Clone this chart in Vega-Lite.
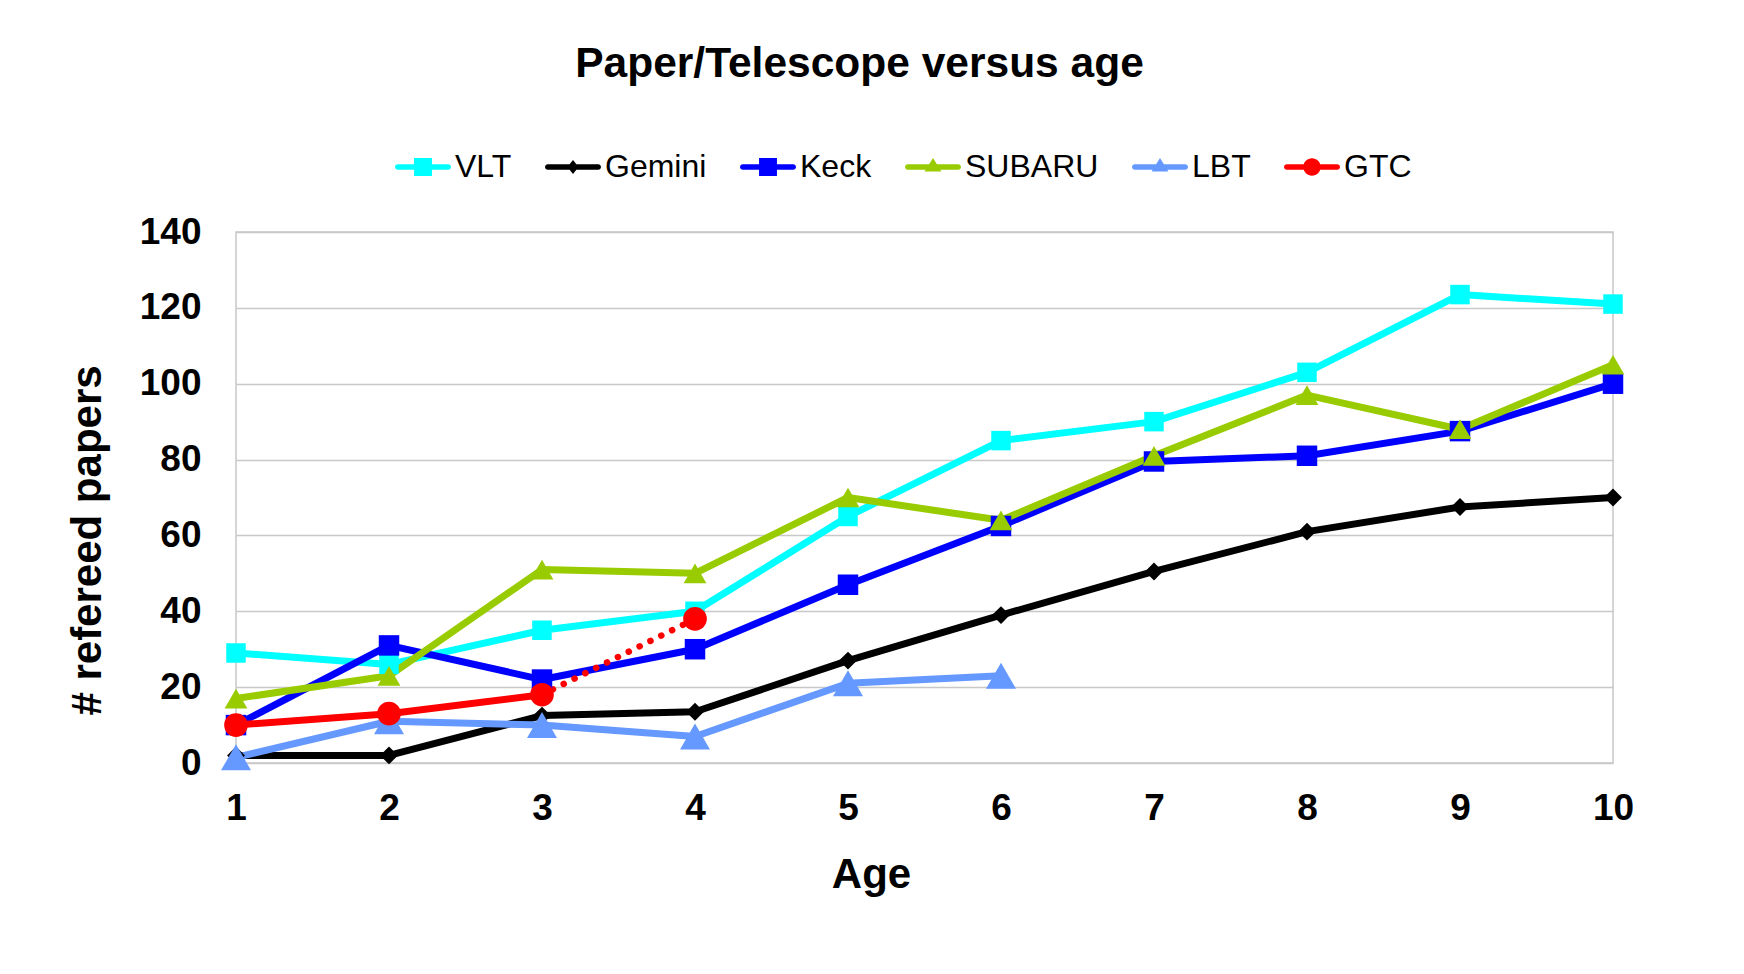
{
  "$schema": "https://vega.github.io/schema/vega-lite/v6.json",
  "width": 1377,
  "height": 531,
  "autosize": "none",
  "padding": {"left": 236, "top": 232, "right": 131, "bottom": 211},
  "background": "white",
  "title": {
    "text": "Paper/Telescope  versus age",
    "font": "Liberation Sans",
    "fontSize": 42.5,
    "fontWeight": "bold",
    "color": "black",
    "anchor": "middle",
    "frame": "group",
    "dx": -65,
    "offset": 54
  },
  "data": {
    "values": [
      {"series": "VLT", "age": 1, "papers": 29},
      {"series": "VLT", "age": 2, "papers": 26},
      {"series": "VLT", "age": 3, "papers": 35},
      {"series": "VLT", "age": 4, "papers": 40},
      {"series": "VLT", "age": 5, "papers": 65},
      {"series": "VLT", "age": 6, "papers": 85},
      {"series": "VLT", "age": 7, "papers": 90},
      {"series": "VLT", "age": 8, "papers": 103},
      {"series": "VLT", "age": 9, "papers": 123.5},
      {"series": "VLT", "age": 10, "papers": 121},
      {"series": "Gemini", "age": 1, "papers": 2},
      {"series": "Gemini", "age": 2, "papers": 2},
      {"series": "Gemini", "age": 3, "papers": 12.5},
      {"series": "Gemini", "age": 4, "papers": 13.5},
      {"series": "Gemini", "age": 5, "papers": 27},
      {"series": "Gemini", "age": 6, "papers": 39},
      {"series": "Gemini", "age": 7, "papers": 50.5},
      {"series": "Gemini", "age": 8, "papers": 61},
      {"series": "Gemini", "age": 9, "papers": 67.5},
      {"series": "Gemini", "age": 10, "papers": 70},
      {"series": "Keck", "age": 1, "papers": 10},
      {"series": "Keck", "age": 2, "papers": 31},
      {"series": "Keck", "age": 3, "papers": 22},
      {"series": "Keck", "age": 4, "papers": 30},
      {"series": "Keck", "age": 5, "papers": 47},
      {"series": "Keck", "age": 6, "papers": 62.5},
      {"series": "Keck", "age": 7, "papers": 79.5},
      {"series": "Keck", "age": 8, "papers": 81},
      {"series": "Keck", "age": 9, "papers": 87.5},
      {"series": "Keck", "age": 10, "papers": 100},
      {"series": "SUBARU", "age": 1, "papers": 17},
      {"series": "SUBARU", "age": 2, "papers": 23},
      {"series": "SUBARU", "age": 3, "papers": 51},
      {"series": "SUBARU", "age": 4, "papers": 50},
      {"series": "SUBARU", "age": 5, "papers": 70},
      {"series": "SUBARU", "age": 6, "papers": 64},
      {"series": "SUBARU", "age": 7, "papers": 81},
      {"series": "SUBARU", "age": 8, "papers": 97},
      {"series": "SUBARU", "age": 9, "papers": 88},
      {"series": "SUBARU", "age": 10, "papers": 105},
      {"series": "LBT", "age": 1, "papers": 1.5},
      {"series": "LBT", "age": 2, "papers": 11},
      {"series": "LBT", "age": 3, "papers": 10},
      {"series": "LBT", "age": 4, "papers": 7},
      {"series": "LBT", "age": 5, "papers": 21},
      {"series": "LBT", "age": 6, "papers": 23},
      {"series": "GTC", "age": 1, "papers": 10},
      {"series": "GTC", "age": 2, "papers": 13},
      {"series": "GTC", "age": 3, "papers": 18},
      {"series": "GTC", "age": 4, "papers": 38}
    ]
  },
  "encoding": {
    "x": {
      "field": "age",
      "type": "quantitative",
      "scale": {"domain": [1, 10], "nice": false, "zero": false},
      "axis": {
        "values": [1, 2, 3, 4, 5, 6, 7, 8, 9, 10],
        "format": "d",
        "title": "Age",
        "grid": false,
        "ticks": false,
        "domain": false,
        "labelFlush": false,
        "labelFont": "Liberation Sans",
        "labelFontSize": 37,
        "labelFontWeight": "bold",
        "labelColor": "black",
        "labelPadding": 27,
        "titleFont": "Liberation Sans",
        "titleFontSize": 42,
        "titleFontWeight": "bold",
        "titleColor": "black",
        "titlePadding": 28,
        "titleX": 635
      }
    },
    "y": {
      "field": "papers",
      "type": "quantitative",
      "scale": {"domain": [0, 140], "nice": false},
      "axis": {
        "values": [0, 20, 40, 60, 80, 100, 120, 140],
        "title": "# refereed papers",
        "grid": true,
        "gridColor": "#c8c8c8",
        "gridWidth": 1.5,
        "ticks": false,
        "domain": false,
        "labelFont": "Liberation Sans",
        "labelFontSize": 37,
        "labelFontWeight": "bold",
        "labelColor": "black",
        "labelPadding": 35,
        "titleFont": "Liberation Sans",
        "titleFontSize": 42,
        "titleFontWeight": "bold",
        "titleColor": "black",
        "titlePadding": 30,
        "titleY": 308
      }
    },
    "color": {
      "field": "series",
      "type": "nominal",
      "scale": {
        "domain": ["VLT", "Gemini", "Keck", "SUBARU", "LBT", "GTC"],
        "range": ["#00FFFF", "#000000", "#0000FF", "#99CC00", "#6699FF", "#FF0000"]
      },
      "legend": {
        "orient": "none",
        "legendX": 159,
        "legendY": -93,
        "direction": "horizontal",
        "title": null,
        "padding": 0,
        "symbolSize": 3136,
        "symbolStrokeWidth": 0,
        "symbolOpacity": 1,
        "labelFont": "Liberation Sans",
        "labelFontSize": 32,
        "labelColor": "black",
        "labelOffset": 4,
        "columnPadding": 33,
        "encode": {
          "symbols": {
            "update": {
              "shape": {"signal": "datum.value === 'Gemini' ? 'M-0.9,-0.1L0.9,-0.1A0.1,0.1,0,0,1,0.9,0.1L-0.9,0.1A0.1,0.1,0,0,1,-0.9,-0.1ZM0,-0.25L0.2,0L0,0.25L-0.2,0Z' : (datum.value === 'SUBARU' || datum.value === 'LBT') ? 'M-0.9,-0.1L0.9,-0.1A0.1,0.1,0,0,1,0.9,0.1L-0.9,0.1A0.1,0.1,0,0,1,-0.9,-0.1ZM0,-0.32L0.3,0.16L-0.3,0.16Z' : datum.value === 'GTC' ? 'M-0.9,-0.1L0.9,-0.1A0.1,0.1,0,0,1,0.9,0.1L-0.9,0.1A0.1,0.1,0,0,1,-0.9,-0.1ZM-0.31,0A0.31,0.31,0,1,1,0.31,0A0.31,0.31,0,1,1,-0.31,0Z' : 'M-0.9,-0.1L0.9,-0.1A0.1,0.1,0,0,1,0.9,0.1L-0.9,0.1A0.1,0.1,0,0,1,-0.9,-0.1ZM-0.32,-0.32L0.32,-0.32L0.32,0.32L-0.32,0.32Z'"},
              "size": {"value": 3136},
              "fill": {"scale": "color", "field": "value"},
              "stroke": {"value": "transparent"},
              "strokeWidth": {"value": 0},
              "opacity": {"value": 1}
            }
          }
        }
      }
    }
  },
  "layer": [
    {
      "transform": [{"filter": "datum.series != 'GTC' || datum.age <= 3"}],
      "mark": {"type": "line", "strokeWidth": 7, "strokeJoin": "round", "strokeCap": "round"}
    },
    {
      "transform": [{"filter": "datum.series == 'GTC' && datum.age >= 3"}],
      "mark": {"type": "line", "strokeWidth": 6.5, "strokeDash": [0.1, 12], "strokeCap": "round"}
    },
    {
      "transform": [{"filter": "datum.series == 'VLT'"}],
      "mark": {"type": "point", "filled": true, "opacity": 1, "strokeWidth": 0, "shape": "square", "size": 380}
    },
    {
      "transform": [{"filter": "datum.series == 'Gemini'"}],
      "mark": {"type": "point", "filled": true, "opacity": 1, "strokeWidth": 0, "shape": "diamond", "size": 320}
    },
    {
      "transform": [{"filter": "datum.series == 'Keck'"}],
      "mark": {"type": "point", "filled": true, "opacity": 1, "strokeWidth": 0, "shape": "square", "size": 420}
    },
    {
      "transform": [{"filter": "datum.series == 'SUBARU'"}],
      "mark": {"type": "point", "filled": true, "opacity": 1, "strokeWidth": 0, "shape": "triangle-up", "size": 520}
    },
    {
      "transform": [{"filter": "datum.series == 'LBT'"}],
      "mark": {"type": "point", "filled": true, "opacity": 1, "strokeWidth": 0, "shape": "triangle-up", "size": 900}
    },
    {
      "transform": [{"filter": "datum.series == 'GTC'"}],
      "mark": {"type": "point", "filled": true, "opacity": 1, "strokeWidth": 0, "shape": "circle", "size": 560}
    }
  ],
  "config": {
    "view": {"stroke": "#c8c8c8", "strokeWidth": 1.5}
  }
}
